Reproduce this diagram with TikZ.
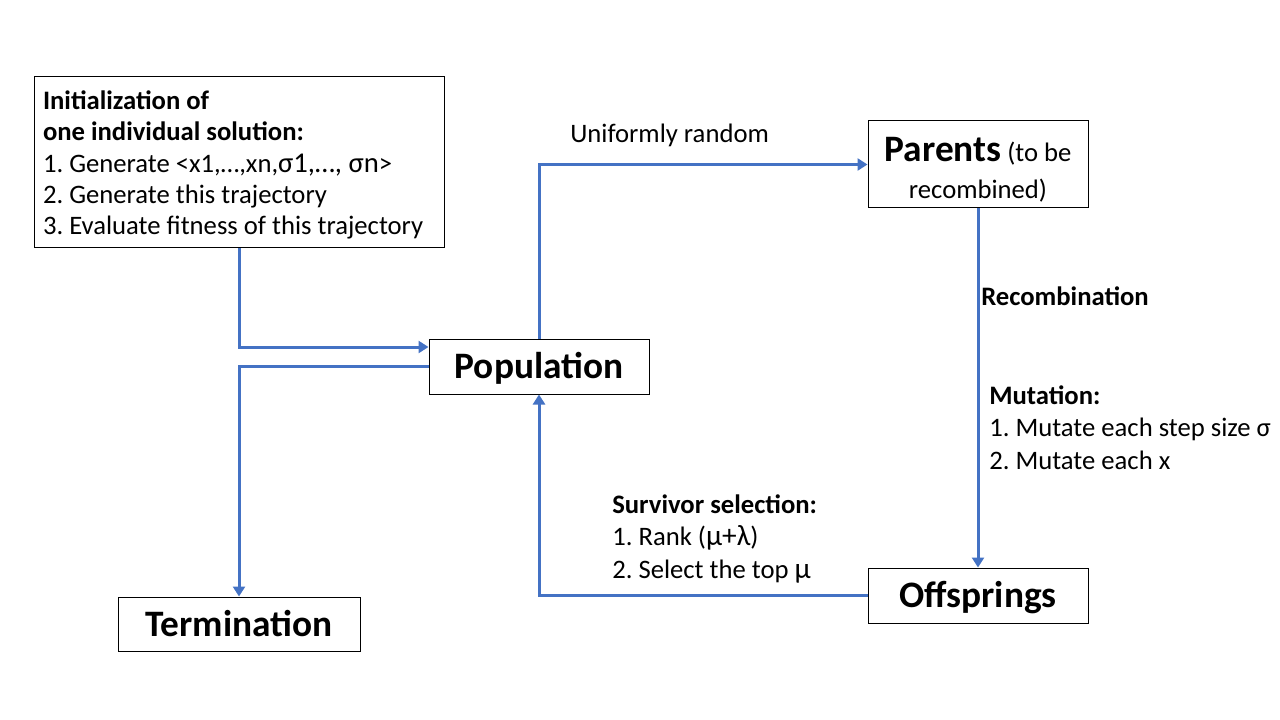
\documentclass[tikz,border=0pt]{standalone}
\usepackage{fontspec}
\setmainfont{Carlito}
\usetikzlibrary{arrows.meta,calc}
\definecolor{flowblue}{HTML}{4472C4}
\tikzset{
  box/.style={draw=black, line width=0.75pt, fill=white, inner sep=0pt, align=flush center},
  bigtxt/.style={font=\fontsize{28}{33}\selectfont\bfseries, text height=24pt, text depth=6pt},
  flow/.style={draw=flowblue, line width=2.25pt, -{Triangle[length=7.5pt,width=9pt]}},
  lbl/.style={anchor=west, inner sep=0pt, align=flush left, font=\fontsize{20}{24.4}\selectfont},
}
\begin{document}
\frenchspacing
\begin{tikzpicture}[x=0.75pt, y=-0.75pt]
\path[use as bounding box, fill=white] (0,0) rectangle (1280,720);
% nodes
\node[box, minimum width=307.5pt, minimum height=128.25pt, text width=294pt, align=flush left,
      font=\fontsize{20}{23.3}\selectfont] (init) at (239,162)
  {\rule{0pt}{18.5pt}\textbf{Initialization of}\\
   \textbf{one individual solution:}\\
   1. Generate <x1,…,xn,{\fontsize{21.5}{23.3}\selectfont σ1,…, σn}>\\
   2. Generate this trajectory\\
   3. Evaluate fitness of this trajectory};
\node[box, minimum width=165pt, minimum height=65.25pt, font=\fontsize{20}{27.75}\selectfont] (par) at (978,164.5)
  {\rule{0pt}{26pt}{\fontsize{28}{27.75}\selectfont\bfseries Parents} (to be\\recombined)};
\node[box, bigtxt, minimum width=165pt, minimum height=41.25pt] (pop) at (539,366.5) {Population};
\node[box, bigtxt, minimum width=165pt, minimum height=41.25pt] (off) at (978,595.5) {Offsprings};
\node[box, bigtxt, minimum width=181.5pt, minimum height=40.5pt] (term) at (239,624) {Termination};
% connectors
\coordinate (popin) at ($(pop.west)+(0,-19.5)$);
\draw[flow] (init.south) |- (popin);
\draw[flow] (pop.west) -| (term.north);
\draw[flow] (pop.north) |- (par.west);
\draw[flow] (par.south) -- (off.north);
\draw[flow] (off.west) -| (pop.south);
% labels
\node[lbl] (lunif) at (570,135) {Uniformly random};
\node[lbl, font=\fontsize{20}{24.4}\selectfont\bfseries] (lrec) at (981,296) {Recombination};
\node[lbl, anchor=north west] (lmut) at (989,385)
  {\textbf{Mutation:}\\
   1. Mutate each step size σ\\
   2. Mutate each x};
\node[lbl, anchor=north west] (lsurv) at (612,494)
  {\textbf{Survivor selection:}\\
   1. Rank ({\fontsize{22}{24.4}\selectfont μ+λ})\\
   2. Select the top {\fontsize{22}{24.4}\selectfont μ}};
\end{tikzpicture}
\end{document}
